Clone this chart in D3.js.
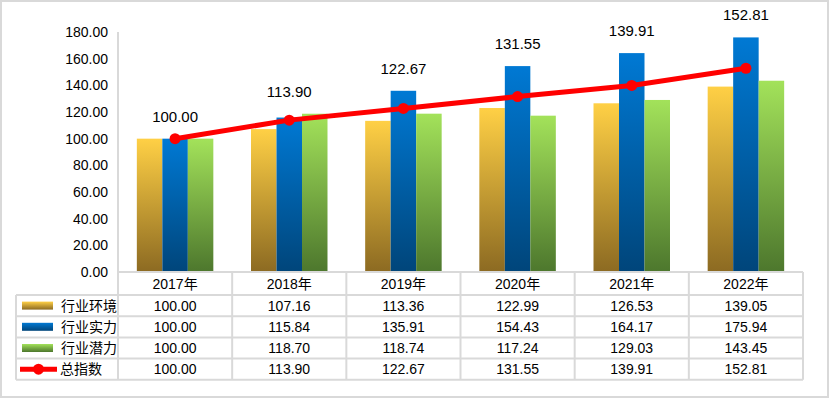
<!DOCTYPE html>
<html lang="zh">

<head>
  <meta charset="utf-8">
  <title>行业指数</title>
  <script src="https://cdnjs.cloudflare.com/ajax/libs/d3/7.8.5/d3.min.js"></script>
  <style>
    body { margin: 0; background: #fff; }
    svg text { font-family: "Liberation Sans", "Noto Sans CJK SC", sans-serif; font-size: 14px; fill: #000; }
    .grid { stroke: #d9d9d9; stroke-width: 2; fill: none; }
  </style>
</head>

<body>
  <svg id="chart" width="830" height="399"></svg>

  <script>
    // data
    var years = ["2017年", "2018年", "2019年", "2020年", "2021年", "2022年"];
    var seriesNames = ["行业环境", "行业实力", "行业潜力"];
    var huanjing = [100.00, 107.16, 113.36, 122.99, 126.53, 139.05];
    var shili = [100.00, 115.84, 135.91, 154.43, 164.17, 175.94];
    var qianli = [100.00, 118.70, 118.74, 117.24, 129.03, 143.45];
    var lineName = "总指数";
    var total = [100.00, 113.90, 122.67, 131.55, 139.91, 152.81];
    var yTicks = [0, 20, 40, 60, 80, 100, 120, 140, 160, 180];

    var barSeries = [huanjing, shili, qianli];
    var gradColors = [
      ["#ffd045", "#8c6a22"],
      ["#0079d4", "#00457a"],
      ["#a3e25a", "#4d772d"]
    ];

    var svg = d3.select("#chart");

    // outer frame
    svg.append("rect")
      .attr("x", 1).attr("y", 1)
      .attr("width", 827).attr("height", 396)
      .attr("fill", "none").attr("stroke", "#d9d9d9").attr("stroke-width", 2);

    var defs = svg.append("defs");
    gradColors.forEach(function (c, i) {
      var g = defs.append("linearGradient")
        .attr("id", "grad" + i)
        .attr("x1", 0).attr("y1", 0).attr("x2", 0).attr("y2", 1);
      g.append("stop").attr("offset", "0%").attr("stop-color", c[0]);
      g.append("stop").attr("offset", "100%").attr("stop-color", c[1]);
    });

    // plot box (window.top is reserved, so prefix the names)
    var plotLeft = 118, plotRight = 803, plotTop = 32, plotBottom = 272;
    var rowH = 21.2, headH = 23, legendLeft = 16;

    var x = d3.scaleBand().domain(years).range([plotLeft, plotRight]);
    var y = d3.scaleLinear().domain([0, 180]).range([plotBottom, plotTop]);
    var groupW = x.bandwidth() * 0.67;
    var x1 = d3.scaleBand().domain(d3.range(barSeries.length)).range([0, groupW]);

    // y axis
    var yAxis = svg.append("g")
      .attr("transform", "translate(" + plotLeft + ",0)")
      .call(d3.axisLeft(y).tickValues(yTicks).tickFormat(d3.format(".2f")).tickSize(0).tickPadding(10));
    yAxis.select(".domain").remove();
    yAxis.selectAll("text").style("font-size", "14px").style("font-family", null);

    // bars
    barSeries.forEach(function (vals, si) {
      svg.append("g").selectAll("rect")
        .data(vals)
        .join("rect")
        .attr("x", function (d, i) { return x(years[i]) + (x.bandwidth() - groupW) / 2 + x1(si); })
        .attr("y", function (d) { return y(d); })
        .attr("width", x1.bandwidth())
        .attr("height", function (d) { return y(0) - y(d); })
        .attr("fill", "url(#grad" + si + ")");
    });

    // total index line
    var cx = function (d, i) { return x(years[i]) + x.bandwidth() / 2; };
    svg.append("path")
      .datum(total)
      .attr("fill", "none")
      .attr("stroke", "#ff0000")
      .attr("stroke-width", 5)
      .attr("d", d3.line().x(cx).y(function (d) { return y(d); }));
    svg.append("g").selectAll("circle")
      .data(total)
      .join("circle")
      .attr("cx", cx)
      .attr("cy", function (d) { return y(d); })
      .attr("r", 5.5)
      .attr("fill", "#ff0000");

    // labels sit above the tallest bar of each year
    svg.append("g").selectAll("text")
      .data(total)
      .join("text")
      .attr("x", cx)
      .attr("y", function (d, i) {
        var m = d3.max(barSeries, function (s) { return s[i]; });
        return y(m) - 17;
      })
      .attr("text-anchor", "middle")
      .style("font-size", "15px")
      .text(function (d) { return d.toFixed(2); });

    // data table
    var table = svg.append("g");
    var rows = [
      { name: seriesNames[0], vals: huanjing, kind: 0 },
      { name: seriesNames[1], vals: shili, kind: 1 },
      { name: seriesNames[2], vals: qianli, kind: 2 },
      { name: lineName, vals: total, kind: "line" }
    ];
    var tableBottom = plotBottom + headH + rowH * rows.length;

    // header row
    years.forEach(function (yr) {
      table.append("text")
        .attr("x", x(yr) + x.bandwidth() / 2)
        .attr("y", plotBottom + headH / 2 + 5)
        .attr("text-anchor", "middle")
        .text(yr);
    });

    rows.forEach(function (r, ri) {
      var ry = plotBottom + headH + rowH * ri;
      var mid = ry + rowH / 2;
      r.vals.forEach(function (v, i) {
        table.append("text")
          .attr("x", x(years[i]) + x.bandwidth() / 2)
          .attr("y", mid + 5)
          .attr("text-anchor", "middle")
          .text(v.toFixed(2));
      });
      if (r.kind === "line") {
        table.append("line")
          .attr("x1", 20).attr("x2", 57)
          .attr("y1", mid).attr("y2", mid)
          .attr("stroke", "#ff0000").attr("stroke-width", 5);
        table.append("circle")
          .attr("cx", 38.5).attr("cy", mid).attr("r", 5.5).attr("fill", "#ff0000");
      } else {
        table.append("rect")
          .attr("x", 22).attr("y", mid - 4)
          .attr("width", 31).attr("height", 8)
          .attr("fill", "url(#grad" + r.kind + ")");
      }
      table.append("text")
        .attr("x", r.kind === "line" ? 60 : 61)
        .attr("y", mid + 5)
        .text(r.name);
    });

    // grid lines of the table and the axis line
    var grid = table.append("g");
    grid.append("line").attr("x1", plotLeft).attr("x2", plotLeft).attr("y1", plotTop).attr("y2", tableBottom).attr("class", "grid");
    years.forEach(function (yr) {
      var xr = x(yr) + x.bandwidth();
      grid.append("line").attr("x1", xr).attr("x2", xr).attr("y1", plotBottom).attr("y2", tableBottom).attr("class", "grid");
    });
    grid.append("line").attr("x1", legendLeft).attr("x2", legendLeft).attr("y1", plotBottom + headH).attr("y2", tableBottom).attr("class", "grid");
    grid.append("line").attr("x1", plotLeft).attr("x2", plotRight).attr("y1", plotBottom).attr("y2", plotBottom).attr("class", "grid");
    d3.range(rows.length + 1).forEach(function (k) {
      var ly = plotBottom + headH + rowH * k;
      grid.append("line").attr("x1", legendLeft).attr("x2", plotRight).attr("y1", ly).attr("y2", ly).attr("class", "grid");
    });
  </script>
</body>

</html>
